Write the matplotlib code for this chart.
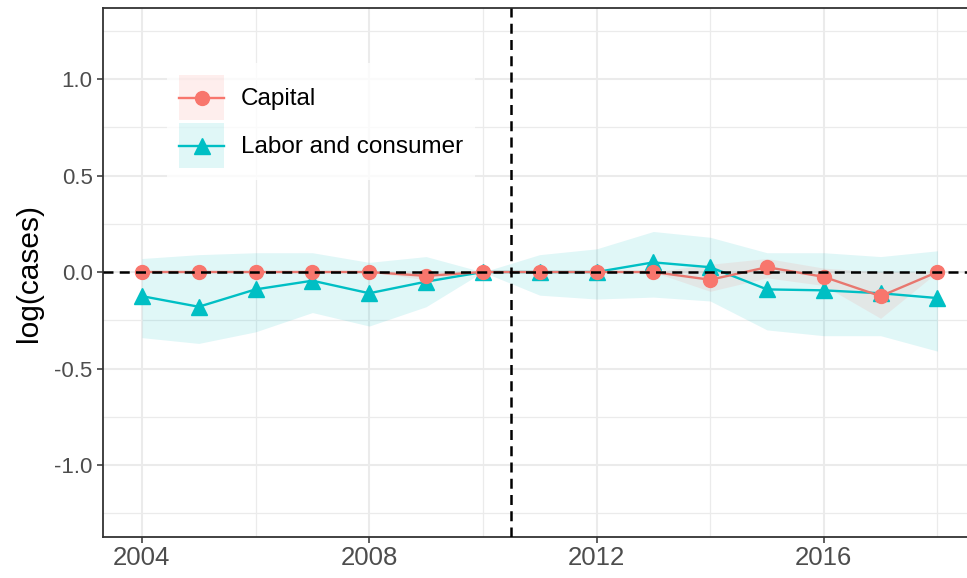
import numpy as np
import matplotlib
matplotlib.use("Agg")
import matplotlib.pyplot as plt
from matplotlib.patches import Patch
from matplotlib.lines import Line2D
from matplotlib.legend_handler import HandlerTuple, HandlerLine2D

plt.rcParams['font.family'] = ['Liberation Sans', 'DejaVu Sans']
plt.rcParams['axes.unicode_minus'] = False

years = [2004, 2005, 2006, 2007, 2008, 2009, 2010, 2011, 2012, 2013, 2014, 2015, 2016, 2017, 2018]

capital = [0, 0, 0, 0, 0, -0.02, 0, 0, 0, 0, -0.04, 0.025, -0.025, -0.125, 0]
capital_lo = [0, 0, 0, 0, 0, -0.04, 0, 0, 0, 0, -0.10, -0.03, -0.07, -0.24, 0]
capital_hi = [0, 0, 0, 0, 0, 0.0, 0, 0, 0, 0, 0.04, 0.07, 0.02, 0.0, 0]

labor = [-0.125, -0.18, -0.09, -0.045, -0.11, -0.05, 0, 0, 0, 0.05, 0.025, -0.09, -0.095, -0.11, -0.135]
labor_lo = [-0.34, -0.37, -0.31, -0.21, -0.28, -0.18, 0, -0.12, -0.14, -0.13, -0.15, -0.30, -0.33, -0.33, -0.41]
labor_hi = [0.07, 0.09, 0.10, 0.10, 0.05, 0.08, 0, 0.09, 0.12, 0.21, 0.18, 0.10, 0.10, 0.08, 0.11]

series = ["Capital", "Labor and consumer"]
treatment_year = 2010.5

red = "#F8766D"
teal = "#00BFC4"


class CenteredLine(HandlerLine2D):
    # put the key line through the middle of the filled key box
    def create_artists(self, legend, orig_handle, xdescent, ydescent,
                       width, height, fontsize, trans):
        return super().create_artists(legend, orig_handle, xdescent, ydescent,
                                      width, height - ydescent, fontsize, trans)


fig = plt.figure(figsize=(9.67, 5.78), dpi=100)
ax = fig.add_axes([103 / 967, 41 / 578, 1 - 103 / 967, 529 / 578])

# confidence ribbons
ax.fill_between(years, labor_lo, labor_hi, color=teal, alpha=0.12, linewidth=0, zorder=2)
ax.fill_between(years, capital_lo, capital_hi, color=red, alpha=0.12, linewidth=0, zorder=2)

# point estimates
ax.plot(years, labor, color=teal, lw=1.7, marker="^", ms=11, zorder=3)
ax.plot(years, capital, color="#E8776F", lw=1.7, marker="o", mfc=red, mec=red, ms=10, zorder=4)

# reference lines
ax.axhline(0, color="black", lw=1.8, ls=(0, (4, 2.5)), zorder=5)
ax.axvline(treatment_year, color="black", lw=1.8, ls=(0, (4, 2.5)), zorder=5)

ax.set_xlim(2003.315, 2018.52)
ax.set_ylim(-1.373, 1.368)
ax.set_xticks([2004, 2008, 2012, 2016])
ax.set_xticks([2006, 2010, 2014, 2018], minor=True)
ax.set_yticks([-1.0, -0.5, 0.0, 0.5, 1.0])
ax.set_yticklabels(["-1.0", "-0.5", "0.0", "0.5", "1.0"])
ax.set_yticks([-1.25, -0.75, -0.25, 0.25, 0.75, 1.25], minor=True)

ax.grid(which="major", color="#EBEBEB", lw=1.5, zorder=0)
ax.grid(which="minor", color="#EBEBEB", lw=0.9, zorder=0)
ax.set_axisbelow(True)

ax.tick_params(which="major", length=4.5, width=1.1, color="#333333",
               labelcolor="#4D4D4D", pad=3)
ax.tick_params(axis="y", which="major", labelsize=16)
ax.tick_params(axis="x", which="major", labelsize=18.5, pad=2)
ax.tick_params(which="minor", length=0)

for side in ["left", "top", "bottom"]:
    ax.spines[side].set_color("#333333")
    ax.spines[side].set_linewidth(1.3)
ax.spines["right"].set_visible(False)

ax.set_ylabel("log(cases)", fontsize=21.5, labelpad=8)

handles = [
    (Patch(facecolor=red, alpha=0.12, lw=0),
     Line2D([], [], color=red, lw=1.7, marker="o", ms=10)),
    (Patch(facecolor=teal, alpha=0.12, lw=0),
     Line2D([], [], color=teal, lw=1.7, marker="^", ms=11)),
]
leg = ax.legend(handles, series,
                handler_map={tuple: HandlerTuple(ndivide=1, pad=0), Line2D: CenteredLine()},
                loc="upper left", bbox_to_anchor=(0.074, 0.896), fontsize=17.5,
                handlelength=1.85, handleheight=2.47, labelspacing=0.12,
                handletextpad=0.7, borderpad=0.5, borderaxespad=0,
                frameon=True, fancybox=False)
leg.get_frame().set_facecolor("white")
leg.get_frame().set_edgecolor("none")
leg.set_zorder(6)

fig.savefig("out.png", dpi=100)
